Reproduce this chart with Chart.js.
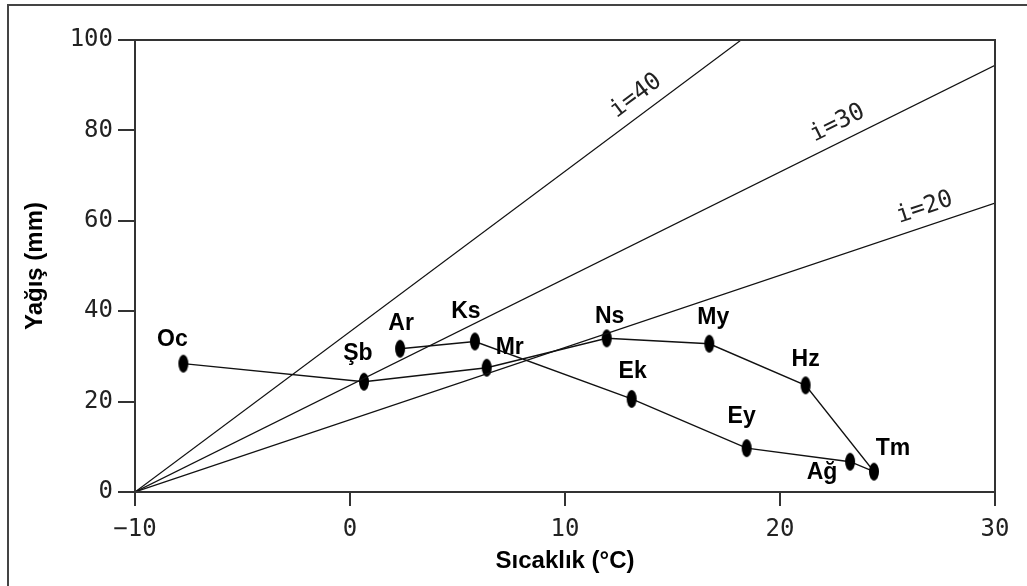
<!DOCTYPE html>
<html>
<head>
<meta charset="utf-8">
<script src="https://cdn.jsdelivr.net/npm/chart.js@4/dist/chart.umd.min.js"></script>
<style>
  html, body { margin: 0; padding: 0; background: #fff; }
  canvas { display: block; }
</style>
</head>
<body>
<canvas id="iklim" width="1027" height="586"></canvas>
<script>
// monthly mean temperature (°C) and precipitation (mm)
var months = ['Oc', 'Şb', 'Mr', 'Ns', 'My', 'Hz', 'Tm', 'Ağ', 'Ey', 'Ek', 'Ks', 'Ar'];
var temps = [-7.75, 0.65, 6.36, 11.94, 16.71, 21.19, 24.37, 23.26, 18.45, 13.1, 5.81, 2.33];
var precip = [28.4, 24.4, 27.5, 34.0, 32.8, 23.6, 4.5, 6.7, 9.7, 20.6, 33.3, 31.7];

// aridity index lines, all starting at (-10, 0)
var indexNames = ['i=40', 'i=30', 'i=20'];
var indexEndT = [18.19, 30, 30];
var indexEndP = [100, 94.4, 63.9];
var indexLabelAt = [13.8, 23.05, 27.0];

var xTicks = [-10, 0, 10, 20, 30];
var yTicks = [0, 20, 40, 60, 80, 100];

// pixel nudges for the month labels, relative to each point
var labelShift = [[-11, -24], [-6, -28], [23, -20], [3, -22], [4, -26], [0, -26],
                  [19, -23], [-28, 11], [-5, -31], [1, -27], [-9, -30], [1, -25]];

var tickFont = { family: '"DejaVu Sans Mono"', size: 24 };
var titleFont = { family: '"Liberation Sans"', size: 24, weight: 'bold' };
var ink = '#222';

// tall black ellipse used as the point marker
var dot = document.createElement('canvas');
dot.width = 12; dot.height = 20;
var dc = dot.getContext('2d');
dc.fillStyle = '#000';
dc.beginPath();
dc.ellipse(6, 10, 5, 9, 0, 0, Math.PI * 2);
dc.fill();

var monthPoints = temps.map(function (t, i) { return { x: t, y: precip[i] }; });

var datasets = indexNames.map(function (name, i) {
  return {
    label: name,
    data: [{ x: -10, y: 0 }, { x: indexEndT[i], y: indexEndP[i] }],
    showLine: true,
    borderColor: '#111',
    borderWidth: 1.2,
    pointRadius: 0
  };
});
datasets.push({
  label: 'aylar',
  data: monthPoints,
  showLine: true,
  borderColor: '#111',
  borderWidth: 1.4,
  pointStyle: dot,
  pointRadius: 6
});

var extras = {
  id: 'extras',
  beforeDraw: function (chart) {
    var c = chart.ctx;
    c.save();
    c.fillStyle = '#fff';
    c.fillRect(0, 0, chart.width, chart.height);
    // outer frame
    c.strokeStyle = '#444';
    c.lineWidth = 2;
    c.beginPath();
    c.moveTo(8, chart.height + 5);
    c.lineTo(8, 5);
    c.lineTo(chart.width + 5, 5);
    c.stroke();
    c.restore();
  },
  afterDatasetsDraw: function (chart) {
    var c = chart.ctx, xs = chart.scales.x, ys = chart.scales.y, a = chart.chartArea;
    c.save();
    c.strokeStyle = '#333';
    c.lineWidth = 2;
    c.strokeRect(a.left, a.top, a.right - a.left, a.bottom - a.top);

    // index line labels, rotated along their lines
    c.font = '24px "DejaVu Sans Mono"';
    c.fillStyle = ink;
    c.textAlign = 'center';
    c.textBaseline = 'middle';
    indexNames.forEach(function (name, i) {
      var x0 = xs.getPixelForValue(-10), y0 = ys.getPixelForValue(0);
      var x1 = xs.getPixelForValue(indexEndT[i]), y1 = ys.getPixelForValue(indexEndP[i]);
      var ang = Math.atan2(y1 - y0, x1 - x0);
      var t = indexLabelAt[i];
      var px = xs.getPixelForValue(t);
      var py = ys.getPixelForValue(indexEndP[i] * (t + 10) / (indexEndT[i] + 10));
      c.save();
      c.translate(px, py);
      c.rotate(ang);
      c.fillText(name, 0, -18);
      c.restore();
    });

    // month labels
    c.font = 'bold 23px "Liberation Sans"';
    c.fillStyle = '#000';
    months.forEach(function (m, i) {
      var px = xs.getPixelForValue(temps[i]) + labelShift[i][0];
      var py = ys.getPixelForValue(precip[i]) + labelShift[i][1];
      c.fillText(m, px, py);
    });
    c.restore();
  }
};

new Chart(document.getElementById('iklim'), {
  type: 'scatter',
  data: { datasets: datasets },
  options: {
    responsive: false,
    animation: false,
    layout: { padding: { left: 0, right: 32, top: 40, bottom: 0 } },
    plugins: { legend: { display: false }, tooltip: { enabled: false } },
    scales: {
      x: {
        type: 'linear',
        min: -10, max: 30,
        afterBuildTicks: function (s) { s.ticks = xTicks.map(function (v) { return { value: v }; }); },
        afterFit: function (s) { s.height = 94; },
        ticks: {
          font: tickFont, color: ink, padding: 9, maxRotation: 0,
          callback: function (v) { return String(v).replace('-', '\u2212'); }
        },
        grid: { drawOnChartArea: false, tickLength: 14, color: '#333', lineWidth: 2 },
        border: { color: '#333', width: 2 },
        title: {
          display: true,
          text: 'Sıcaklık (°C)',
          color: '#000',
          font: titleFont,
          padding: { top: 0, bottom: 10 }
        }
      },
      y: {
        min: 0, max: 100,
        afterBuildTicks: function (s) { s.ticks = yTicks.map(function (v) { return { value: v }; }); },
        afterFit: function (s) { s.width = 135; },
        ticks: { font: tickFont, color: ink, padding: 5 },
        grid: { drawOnChartArea: false, tickLength: 17, color: '#333', lineWidth: 2 },
        border: { color: '#333', width: 2 },
        title: {
          display: true,
          text: 'Yağış (mm)',
          color: '#000',
          font: titleFont,
          padding: { top: 21, bottom: 0 }
        }
      }
    }
  },
  plugins: [extras]
});
</script>
</body>
</html>
